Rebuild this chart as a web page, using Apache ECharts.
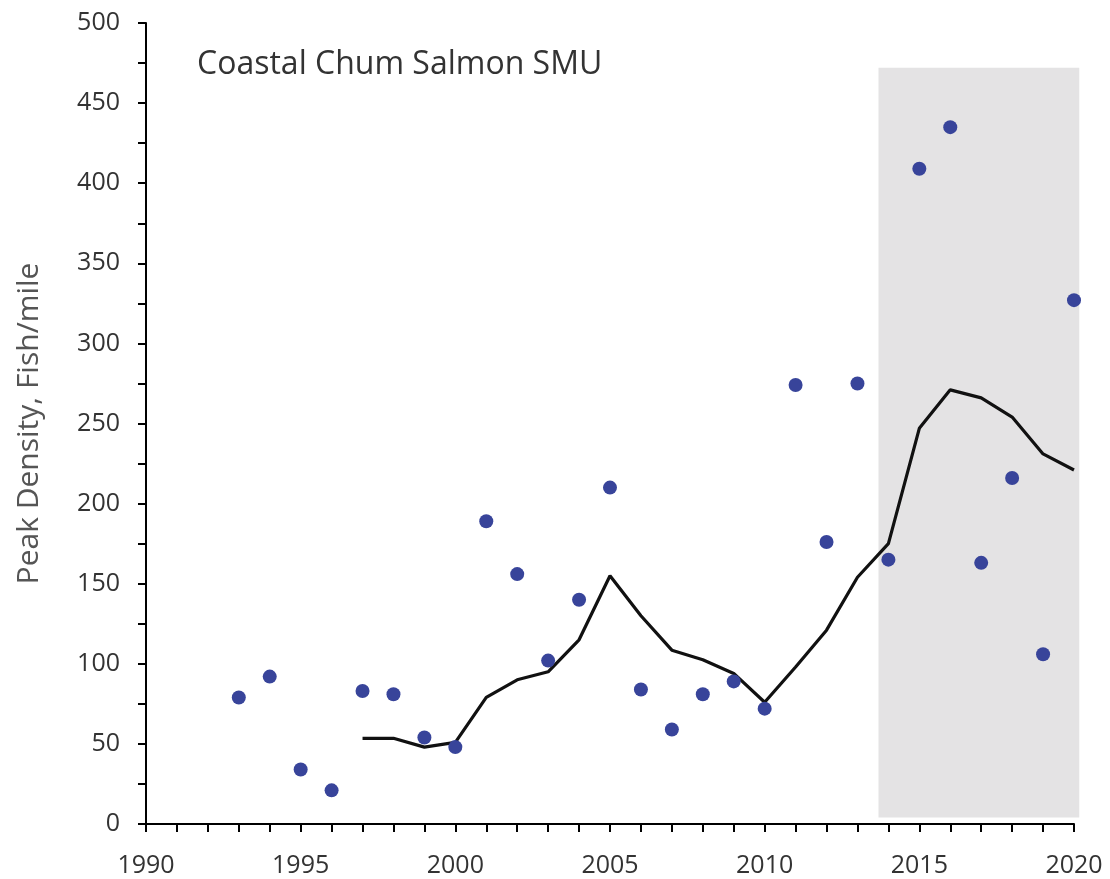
<!DOCTYPE html>
<html><head><meta charset="utf-8">
<script src="https://cdn.jsdelivr.net/npm/echarts@6/dist/echarts.min.js"></script>
<style>html,body{margin:0;padding:0;background:#fff}#c{width:1110px;height:879px}</style>
</head><body><div id="c"></div>
<script>
const title = "Coastal Chum Salmon SMU";
const yAxisName = "Peak Density, Fish/mile";
const pointYears = [1993,1994,1995,1996,1997,1998,1999,2000,2001,2002,2003,2004,2005,2006,2007,2008,2009,2010,2011,2012,2013,2014,2015,2016,2017,2018,2019,2020];
const pointValues = [79,92,34,21,83,81,54,48,189,156,102,140,210,84,59,81,89,72,274,176,275,165,409,435,163,216,106,327];
const lineYears = [1997,1998,1999,2000,2001,2002,2003,2004,2005,2006,2007,2008,2009,2010,2011,2012,2013,2014,2015,2016,2017,2018,2019,2020];
const lineValues = [53.5,53.5,48,51,79,90,95,115,155,130,108.5,102.5,94,76,98,121,154,175,247,271,266,254,231,221];
const shadeX = [2013.68, 2020.17];
const shadeY = [4, 472];

const chart = echarts.init(document.getElementById('c'));
const font = '"Open Sans", Lato, sans-serif';
chart.setOption({
  animation:false,
  backgroundColor:'#fff',
  grid:{left:146,right:36,top:23,bottom:55},
  title:{text:title,left:192,top:44,textStyle:{fontFamily:font,fontWeight:'normal',fontSize:32,color:'#333'}},
  xAxis:{type:'value',min:1990,max:2020,interval:5,
    axisLine:{lineStyle:{color:'#000',width:2}},
    axisTick:{length:8,lineStyle:{color:'#000',width:2}},
    minorTick:{show:true,splitNumber:5,length:8,lineStyle:{color:'#000',width:2}},
    splitLine:{show:false},
    axisLabel:{fontFamily:font,fontSize:25,color:'#333',margin:29,formatter:v=>String(v)}},
  yAxis:{type:'value',min:0,max:500,interval:50,
    name:yAxisName,nameLocation:'middle',nameGap:102,nameRotate:90,
    nameTextStyle:{fontFamily:font,fontSize:30,color:'#555'},
    axisLine:{show:true,lineStyle:{color:'#000',width:2}},
    axisTick:{show:true,length:8,lineStyle:{color:'#000',width:2}},
    minorTick:{show:true,splitNumber:2,length:8,lineStyle:{color:'#000',width:2}},
    splitLine:{show:false},
    axisLabel:{fontFamily:font,fontSize:25,color:'#333',margin:26}},
  series:[
    {type:'custom',silent:true,clip:false,z:1,
     data:[[shadeX[0],shadeY[0],shadeX[1],shadeY[1]]],
     renderItem:(params,api)=>{
       const p0=api.coord([api.value(0),api.value(3)]);
       const p1=api.coord([api.value(2),api.value(1)]);
       return {type:'rect',shape:{x:p0[0],y:p0[1],width:p1[0]-p0[0],height:p1[1]-p0[1]},style:{fill:'#e4e3e4'}};
     }},
    {type:'line',data:lineYears.map((y,i)=>[y,lineValues[i]]),showSymbol:false,symbol:'none',
     lineStyle:{color:'#111',width:3.2},z:3},
    {type:'scatter',data:pointYears.map((y,i)=>[y,pointValues[i]]),symbolSize:14,
     itemStyle:{color:'#38449a',opacity:1},z:4}
  ]
});
</script></body></html>
